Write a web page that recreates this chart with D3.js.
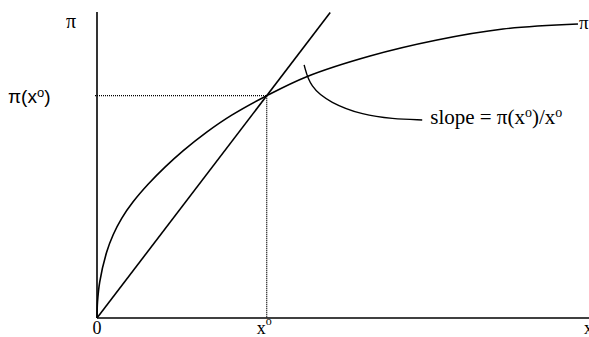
<!DOCTYPE html>
<html>
<head>
<meta charset="utf-8">
<script src="https://cdn.jsdelivr.net/npm/d3@7"></script>
<style>
  body { margin: 0; background: #fff; }
  svg { display: block; }
  .serif { font-family: "Liberation Serif", "Times New Roman", serif; }
  .sans { font-family: "Liberation Sans", Arial, sans-serif; }
</style>
</head>
<body>
<svg id="chart"></svg>
<script>
// profit curve pi(x) (x in 0..100, pi in 0..100)
const curveX = [0, 0.10, 0.55, 1.97, 3.31, 5.02, 7.38, 10.43, 13.82, 17.54, 22.30, 27.38, 34.49, 42.62, 55.49, 69.11, 82.52, 97.76];
const curveY = [0, 5.16, 11.76, 21.57, 27.29, 32.58, 38.04, 43.77, 49.30, 54.69, 60.74, 66.29, 72.65, 78.86, 85.62, 90.85, 94.44, 96.08];

// the chosen point x° and pi(x°)
const xStar = 34.49;
const piStar = 72.65;

// ray from the origin ends where it leaves the top
const rayEndX = 47.4;

// leader line from the curve to the slope note
const leaderX = [42.1, 43.3, 47.4, 54.1, 60.0, 66.1];
const leaderY = [82.7, 75.5, 70.3, 66.3, 65.1, 64.7];

const width = 589, height = 337;
const margin = {top: 12, right: 0, bottom: 19, left: 97};

const svg = d3.select("#chart")
    .attr("width", width)
    .attr("height", height);

const xScale = d3.scaleLinear()
    .domain([0, 100])
    .range([margin.left, width - margin.right]);
const yScale = d3.scaleLinear()
    .domain([0, 100])
    .range([height - margin.bottom, margin.top]);

const line = d3.line()
    .x(d => xScale(d[0]))
    .y(d => yScale(d[1]));

// axes
svg.append("line")
    .attr("x1", xScale(0)).attr("y1", yScale(0))
    .attr("x2", xScale(0)).attr("y2", yScale(100))
    .attr("stroke", "#000").attr("stroke-width", 1.6);
svg.append("line")
    .attr("x1", xScale(0)).attr("y1", yScale(0))
    .attr("x2", xScale(100)).attr("y2", yScale(0))
    .attr("stroke", "#000").attr("stroke-width", 1.6);

// dotted guides at x°
svg.append("line")
    .attr("x1", xScale(0) - 2).attr("y1", yScale(piStar))
    .attr("x2", xScale(xStar)).attr("y2", yScale(piStar))
    .attr("stroke", "#000").attr("stroke-width", 1.3)
    .attr("stroke-dasharray", "1,1");
svg.append("line")
    .attr("x1", xScale(xStar)).attr("y1", yScale(piStar))
    .attr("x2", xScale(xStar)).attr("y2", yScale(0))
    .attr("stroke", "#000").attr("stroke-width", 1.3)
    .attr("stroke-dasharray", "1,1");

// ray with slope pi(x°)/x°
const slope = piStar / xStar;
svg.append("path")
    .datum([[0, 0], [rayEndX, rayEndX * slope]])
    .attr("d", line)
    .attr("fill", "none")
    .attr("stroke", "#000").attr("stroke-width", 1.6);

// pi curve
svg.append("path")
    .datum(curveX.map((x, i) => [x, curveY[i]]))
    .attr("d", d3.line()
        .x(d => xScale(d[0]))
        .y(d => yScale(d[1]))
        .curve(d3.curveCatmullRom.alpha(0.5)))
    .attr("fill", "none")
    .attr("stroke", "#000").attr("stroke-width", 1.6);

// leader
svg.append("path")
    .datum(leaderX.map((x, i) => [x, leaderY[i]]))
    .attr("d", d3.line()
        .x(d => xScale(d[0]))
        .y(d => yScale(d[1]))
        .curve(d3.curveBasis))
    .attr("fill", "none")
    .attr("stroke", "#000").attr("stroke-width", 1.4);

// labels
svg.append("text").attr("class", "serif")
    .attr("x", 71).attr("y", 28)
    .attr("text-anchor", "middle")
    .attr("font-size", 20)
    .text("π");

const py = svg.append("text").attr("class", "sans")
    .attr("x", 8).attr("y", 103)
    .attr("font-size", 19);
py.append("tspan").text("π(x");
py.append("tspan").attr("font-size", 13).attr("dy", -6).text("o");
py.append("tspan").attr("dy", 6).text(")");

svg.append("text").attr("class", "serif")
    .attr("x", xScale(100) - 10).attr("y", 29)
    .attr("font-size", 19)
    .text("π");

svg.append("text").attr("class", "serif")
    .attr("x", xScale(0)).attr("y", 334)
    .attr("text-anchor", "middle")
    .attr("font-size", 18)
    .text("0");

const xs = svg.append("text").attr("class", "serif")
    .attr("x", xScale(xStar) - 10).attr("y", 334)
    .attr("font-size", 18);
xs.append("tspan").text("x");
xs.append("tspan").attr("font-size", 12).attr("dy", -9).text("o");

svg.append("text").attr("class", "serif")
    .attr("x", 584).attr("y", 334)
    .attr("font-size", 18)
    .text("x");

const note = svg.append("text").attr("class", "serif")
    .attr("x", xScale(leaderX[leaderX.length - 1]) + 8)
    .attr("y", yScale(leaderY[leaderY.length - 1]) + 4)
    .attr("font-size", 21);
note.append("tspan").text("slope = π(x");
note.append("tspan").attr("font-size", 14).attr("dy", -7).text("o");
note.append("tspan").attr("dy", 7).text(")/x");
note.append("tspan").attr("font-size", 14).attr("dy", -7).text("o");
</script>
</body>
</html>
